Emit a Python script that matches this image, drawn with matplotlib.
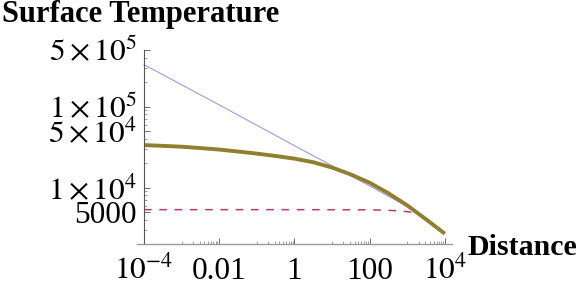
import numpy as np
import matplotlib
matplotlib.use("Agg")
import matplotlib.pyplot as plt
from matplotlib.ticker import FixedLocator, NullFormatter

plt.rcParams['font.family'] = ['Liberation Serif', 'DejaVu Serif']
plt.rcParams['mathtext.fontset'] = 'stix'

# olive curve: full surface temperature (read at half decades)
dist_full = [1e-4, 3.16e-4, 1e-3, 3.16e-3, 1e-2, 3.16e-2, 0.1, 0.316, 1, 3.16, 10,
             31.6, 100, 316, 1000, 3160, 1e4]
temp_full = [33500, 32800, 32000, 30800, 29500, 27900, 26300, 24600, 22800, 20600, 17700,
             14550, 11500, 8530, 6040, 4060, 2700]

# thin blue line: power-law asymptote
dist_near = [1e-4, 1e-2, 1, 100, 2000]
temp_near = [3.3e5, 1.05e5, 3.3e4, 1.05e4, 4.9e3]

# dashed line: far-field level
dist_far = [1e-4, 1, 100, 500, 1000, 2000]
temp_far = [5350, 5350, 5330, 5200, 5050, 4800]

xticks = [1e-4, 1e-2, 1, 1e2, 1e4]
xticklabels = [r'$10^{-4}$', '0.01', '1', '100', r'$10^{4}$']
yticks = [5000, 1e4, 5e4, 1e5, 5e5]
yticklabels = ['5000', r'$1\times10^{4}$', r'$5\times10^{4}$', r'$1\times10^{5}$', r'$5\times10^{5}$']

fig = plt.figure(figsize=(5.81, 2.89), dpi=100)
ax = fig.add_axes([137 / 581, 45 / 289, 315 / 581, 194 / 289])

ax.plot(dist_near, temp_near, color='#8f8fe0', lw=0.7)
ax.plot(dist_far, temp_far, color='#b5387a', lw=1.1, dashes=(5, 5))
ax.plot(dist_full, temp_full, color='#8f7f2e', lw=2.8, solid_capstyle='butt')

ax.set_xscale('log')
ax.set_yscale('log')
ax.set_xlim(10 ** -4.186, 10 ** 4.19)
ax.set_ylim(2015, 5e5)

for s in ['top', 'right']:
    ax.spines[s].set_visible(False)
ax.spines['left'].set_position(('data', 1e-4))
ax.spines['left'].set_color('#555555')
ax.spines['bottom'].set_color('#999999')
ax.spines['left'].set_linewidth(0.8)
ax.spines['bottom'].set_linewidth(1.0)

ax.xaxis.set_major_locator(FixedLocator(xticks))
ax.set_xticklabels(xticklabels)
xminor = [k * 10.0 ** e for e in (-3, -1, 1, 3) for k in range(1, 10)]
ax.xaxis.set_minor_locator(FixedLocator(xminor))
ax.xaxis.set_minor_formatter(NullFormatter())

ax.yaxis.set_major_locator(FixedLocator(yticks))
ax.set_yticklabels(yticklabels)
yminor = [k * 10.0 ** e for e in (3, 4, 5) for k in range(2, 10)]
yminor = [v for v in yminor if v not in yticks]
ax.yaxis.set_minor_locator(FixedLocator(yminor))
ax.yaxis.set_minor_formatter(NullFormatter())

ax.tick_params(which='major', direction='in', length=4, width=0.6, color='#555555', labelsize=22.5)
ax.tick_params(which='minor', direction='in', length=2, width=0.5, color='#777777')
ax.tick_params(axis='y', which='major', pad=5)
ax.tick_params(axis='x', which='major', pad=25)
for lab in ax.get_xticklabels():
    lab.set_va('baseline')

fig.text(2 / 581, 1 - 22 / 289, 'Surface Temperature', fontsize=22, fontweight='bold', va='baseline')
fig.text(467 / 581, 1 - 255 / 289, 'Distance', fontsize=21.5, fontweight='bold', va='baseline')

fig.savefig('out.png', dpi=100)
